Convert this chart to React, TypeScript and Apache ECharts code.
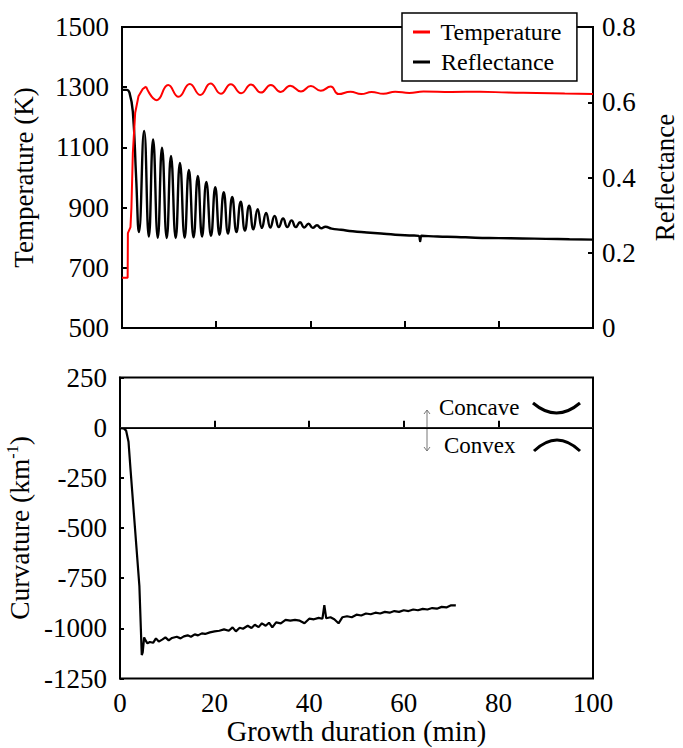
import React, { useEffect, useRef } from "react";
import * as echarts from "echarts";

// ---------- data ----------
// Reflectance (right axis of the upper panel)
const reflTime = [0, 1.0, 1.6, 2.3, 3.0, 3.6,
  4.7, 5.7, 6.6, 7.6, 8.5, 9.5, 10.4, 11.4, 12.3, 13.3, 14.2, 15.2, 16.1, 17.0, 17.9, 18.9, 19.8, 20.7, 21.6, 22.5,
  23.4, 24.3, 25.2, 26.1, 27.0, 27.9, 28.8, 29.7, 30.6, 31.5, 32.4, 33.3, 34.2, 35.1, 36.0, 36.9, 37.8, 38.7, 39.6,
  40.5, 41.4, 42.3, 43.2,
  44.5, 46.5, 49, 52, 55, 58, 61, 63.0, 63.3, 63.6, 67, 71, 75, 80, 85, 90, 95, 100];
const reflValue = [0.633, 0.633, 0.625, 0.575, 0.40, 0.255,
  0.524, 0.243, 0.501, 0.24, 0.479, 0.239, 0.457, 0.239, 0.439, 0.24, 0.42, 0.241, 0.404, 0.243, 0.388, 0.245,
  0.374, 0.248, 0.361, 0.251, 0.348, 0.255, 0.336, 0.259, 0.325, 0.262, 0.316, 0.266, 0.306, 0.267, 0.298, 0.268,
  0.291, 0.268, 0.286, 0.268, 0.281, 0.267, 0.277, 0.266, 0.273, 0.265, 0.269,
  0.264, 0.261, 0.257, 0.254, 0.251, 0.248, 0.246, 0.245, 0.231, 0.245, 0.243, 0.242, 0.240, 0.239, 0.238, 0.237, 0.236, 0.235];

// Temperature (left axis of the upper panel): heating ramp, then oscillating plateau
const tempRampTime = [0, 1.2, 1.25, 1.8, 2.0, 2.3, 2.8, 3.5, 4.4, 5.1];
const tempRampValue = [667, 667, 815, 835, 900, 1080, 1215, 1270, 1294, 1302];
const tempPlateauTime = [5.1, 7.4, 9.8, 12.0, 14.4, 16.6, 18.8, 21.0, 23.1, 25.3, 27.4, 29.5, 31.6, 33.7, 35.7, 38.0,
  40.1, 42.2, 44.3, 46.0, 48.5, 50.8, 53, 55.5, 58, 61, 64, 70, 76, 82, 88, 94, 100];
const tempPlateauValue = [1302, 1257, 1307, 1268, 1311, 1274, 1312, 1278, 1310, 1280, 1309, 1282, 1307, 1284, 1305, 1286,
  1304, 1288, 1302, 1277, 1285, 1277, 1284, 1278, 1285, 1281, 1286, 1284, 1285, 1282, 1281, 1279, 1277];

// Curvature (lower panel)
const curvTime = [0, 0.8, 1.3, 1.8, 2.2, 4.1, 4.6, 4.8, 5.1, 5.4, 5.8, 6.3, 7.0, 7.6, 8.2, 9.0, 9.6, 10.3, 11, 12,
  12.8, 13.5, 14.3, 15, 15.8, 16.5, 17.3, 18, 19, 20, 21, 22, 23, 23.8, 24.5, 25.3, 26, 27, 27.8, 28.5, 29.3, 30,
  30.8, 31.5, 32.2, 33, 34, 35, 36, 37, 38, 39, 40, 41, 42, 42.8, 43.2, 43.6, 44.5, 45.3, 46.2, 47, 48, 49, 50, 51,
  52, 53, 54, 55, 56, 57, 58, 59, 60, 61, 62, 63, 64, 65, 66, 67, 68, 69, 70, 71];
const curvValue = [-3, -4, -15, -70, -200, -790, -1133, -1120, -1045, -1060, -1075, -1068, -1072, -1050, -1066, -1055,
  -1045, -1060, -1048, -1042, -1050, -1040, -1035, -1042, -1030, -1035, -1025, -1028, -1020, -1015, -1012, -1005,
  -1012, -995, -1015, -997, -1002, -987, -998, -982, -994, -975, -987, -972, -995, -970, -975, -958, -962, -958,
  -962, -975, -952, -955, -948, -952, -885, -950, -945, -955, -975, -945, -940, -945, -932, -936, -926, -930, -922,
  -926, -918, -922, -914, -918, -910, -914, -906, -910, -903, -906, -899, -902, -893, -896, -885, -886];

const zip = (a: number[], b: number[]) => a.map((t, i) => [t, b[i]]);

const FONT = "Times New Roman, Liberation Serif, Tinos, DejaVu Serif, serif";
const BLACK = "#000";
const RED = "#ff0000";

export default function App() {
  const ref = useRef<HTMLDivElement>(null);

  useEffect(() => {
    document.body.style.margin = "0";
    const chart = echarts.init(ref.current!, undefined, { renderer: "svg" });

    const axisLine = { show: true, lineStyle: { color: BLACK, width: 2 } };
    const tickStyle = (len: number) => ({ show: true, inside: true, length: len, lineStyle: { color: BLACK, width: 2 } });
    const plain = (v: number) => String(v);
    const labelStyle = { color: BLACK, fontFamily: FONT, fontSize: 27, formatter: plain };
    const nameStyle = { color: BLACK, fontFamily: FONT, fontSize: 27 };

    const option: any = {
      animation: false,
      backgroundColor: "#fff",
      textStyle: { fontFamily: FONT },
      grid: [
        { left: 122, right: 90, top: 27, height: 301, show: true, borderColor: BLACK, borderWidth: 2, containLabel: false, outerBoundsMode: "none" },
        { left: 120, right: 90, top: 377.5, height: 301, show: true, borderColor: BLACK, borderWidth: 2, containLabel: false, outerBoundsMode: "none" },
      ],
      legend: {
        orient: "vertical",
        left: 402,
        top: 13,
        backgroundColor: "#fff",
        borderColor: BLACK,
        borderWidth: 1.5,
        borderRadius: 0,
        padding: [6, 15, 6, 11],
        itemWidth: 17,
        itemHeight: 3,
        itemGap: 4,
        formatter: (n: string) => " " + n,
        textStyle: { color: BLACK, fontFamily: FONT, fontSize: 24, lineHeight: 26 },
        data: [
          { name: "Temperature", icon: "rect", itemStyle: { color: RED } },
          { name: "Reflectance", icon: "rect", itemStyle: { color: BLACK } },
        ],
        z: 10,
      },
      xAxis: [
        {
          gridIndex: 0, type: "value", min: 0, max: 100, interval: 20,
          axisLine, axisTick: tickStyle(7), axisLabel: { show: false }, splitLine: { show: false },
        },
        {
          gridIndex: 1, type: "value", min: 0, max: 100, interval: 20,
          axisLine, axisTick: tickStyle(7), splitLine: { show: false },
          axisLabel: { ...labelStyle, margin: 11 },
          name: "Growth duration (min)", nameLocation: "middle", nameGap: 38,
          nameTextStyle: { ...nameStyle, fontSize: 28.5 },
        },
      ],
      yAxis: [
        {
          gridIndex: 0, type: "value", position: "left", min: 500, max: 1500, interval: 200,
          axisLine, axisTick: tickStyle(5), splitLine: { show: false },
          axisLabel: { ...labelStyle, margin: 13 },
          name: "Temperature (K)", nameLocation: "middle", nameRotate: 90, nameGap: 85, nameTextStyle: nameStyle,
        },
        {
          gridIndex: 0, type: "value", position: "right", min: 0, max: 0.8, interval: 0.2,
          axisLine, axisTick: tickStyle(5), splitLine: { show: false },
          axisLabel: { ...labelStyle, margin: 9 },
          name: "Reflectance", nameLocation: "middle", nameRotate: 90, nameGap: 58, nameTextStyle: nameStyle,
        },
        {
          gridIndex: 1, type: "value", position: "left", min: -1250, max: 250, interval: 250,
          axisLine, axisTick: tickStyle(4), splitLine: { show: false },
          axisLabel: { ...labelStyle, margin: 13 },
          name: "{a|Curvature (km}{b|-1}{a|)}", nameLocation: "middle", nameRotate: 90, nameGap: 78,
          nameTextStyle: {
            ...nameStyle,
            rich: {
              a: { fontFamily: FONT, fontSize: 27.5, color: BLACK, lineHeight: 30 },
              b: { fontFamily: FONT, fontSize: 16, color: BLACK, lineHeight: 16, verticalAlign: "top" },
            },
          },
        },
      ],
      series: [
        {
          name: "Reflectance", type: "line", xAxisIndex: 0, yAxisIndex: 1, symbol: "none", smooth: 0.5,
          lineStyle: { color: BLACK, width: 2.4 }, itemStyle: { color: BLACK },
          data: zip(reflTime, reflValue),
        },
        {
          name: "Temperature", type: "line", xAxisIndex: 0, yAxisIndex: 0, symbol: "none", smooth: false,
          lineStyle: { color: RED, width: 2 }, itemStyle: { color: RED },
          data: zip(tempRampTime, tempRampValue),
        },
        {
          name: "Temperature", type: "line", xAxisIndex: 0, yAxisIndex: 0, symbol: "none", smooth: 0.5,
          lineStyle: { color: RED, width: 2 }, itemStyle: { color: RED },
          data: zip(tempPlateauTime, tempPlateauValue),
        },
        {
          name: "Curvature", type: "line", xAxisIndex: 1, yAxisIndex: 2, symbol: "none", smooth: false,
          lineStyle: { color: BLACK, width: 2.2 },
          data: zip(curvTime, curvValue),
          markLine: {
            silent: true, symbol: "none", label: { show: false },
            lineStyle: { color: "#222", width: 1.2, type: "solid" },
            data: [{ yAxis: 0 }],
          },
        },
      ],
      graphic: [
        { type: "text", left: 439, top: 396, style: { text: "Concave", fontFamily: FONT, fontSize: 23, fill: BLACK } },
        { type: "text", left: 444, top: 434, style: { text: "Convex", fontFamily: FONT, fontSize: 23, fill: BLACK } },
        { type: "line", shape: { x1: 427, y1: 410, x2: 427, y2: 451 }, style: { stroke: "#777", lineWidth: 1 } },
        { type: "polyline", shape: { points: [[424, 414], [427, 410], [430, 414]] }, style: { stroke: "#777", lineWidth: 1, fill: null } },
        { type: "polyline", shape: { points: [[424, 447], [427, 451], [430, 447]] }, style: { stroke: "#777", lineWidth: 1, fill: null } },
        { type: "bezierCurve", shape: { x1: 533, y1: 403, x2: 580, y2: 403, cpx1: 556.5, cpy1: 423 }, style: { stroke: BLACK, lineWidth: 3, fill: null } },
        { type: "bezierCurve", shape: { x1: 534, y1: 451, x2: 580, y2: 451, cpx1: 557, cpy1: 429 }, style: { stroke: BLACK, lineWidth: 3, fill: null } },
      ],
    };

    chart.setOption(option);
    return () => chart.dispose();
  }, []);

  return <div ref={ref} style={{ width: 683, height: 748 }} />;
}
